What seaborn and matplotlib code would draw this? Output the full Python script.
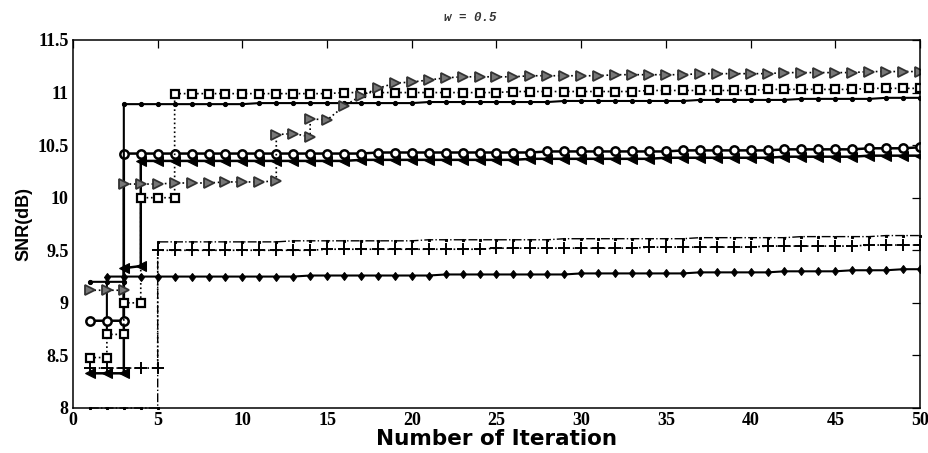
import matplotlib
matplotlib.use("Agg")
import matplotlib.pyplot as plt
import seaborn as sns

# ---------------- data ----------------
x_ticks = [0, 5, 10, 15, 20, 25, 30, 35, 40, 45, 50]
y_ticks = [8, 8.5, 9, 9.5, 10, 10.5, 11, 11.5]
y_tick_labels = ["8", "8.5", "9", "9.5", "10", "10.5", "11", "11.5"]

circ_iter = [1, 2, 3, 3] + list(range(4, 51))
circ_snr = [8.83, 8.83, 8.83,
            10.42, 10.42, 10.42, 10.42, 10.42, 10.42, 10.42, 10.42, 10.42, 10.42,
            10.42, 10.42, 10.42, 10.42, 10.42,
            10.43, 10.43, 10.43, 10.43, 10.43, 10.43, 10.43, 10.43, 10.43, 10.43,
            10.44, 10.44, 10.44, 10.44, 10.44, 10.44, 10.44, 10.44,
            10.45, 10.45, 10.45, 10.45, 10.45, 10.45,
            10.46, 10.46, 10.46, 10.46, 10.46,
            10.47, 10.47, 10.47,
            10.48]

ltri_iter = [1, 2, 3, 3, 4, 4] + list(range(5, 51))
ltri_snr = [8.33, 8.33, 8.33, 9.33, 9.35, 10.35,
            10.35, 10.35, 10.35, 10.35, 10.35, 10.35, 10.35, 10.35, 10.35, 10.35, 10.35, 10.35,
            10.36, 10.36, 10.36, 10.36, 10.36, 10.36, 10.36, 10.36, 10.36, 10.36,
            10.37, 10.37, 10.37, 10.37, 10.37, 10.37, 10.37, 10.37,
            10.38, 10.38, 10.38, 10.38, 10.38, 10.38, 10.38,
            10.39, 10.39, 10.39, 10.39, 10.39,
            10.40, 10.40, 10.40, 10.40]

dot_iter = [1, 2, 3, 3] + list(range(4, 51))
dot_snr = [9.20, 9.20, 9.20,
           10.89, 10.89, 10.89, 10.89, 10.89, 10.89, 10.89, 10.89,
           10.90, 10.90, 10.90, 10.90, 10.90, 10.90, 10.90, 10.90, 10.90, 10.90,
           10.91, 10.91, 10.91, 10.91, 10.91, 10.91, 10.91, 10.91,
           10.92, 10.92, 10.92, 10.92, 10.92, 10.92, 10.92, 10.92,
           10.93, 10.93, 10.93, 10.93, 10.93, 10.93,
           10.94, 10.94, 10.94, 10.94, 10.94,
           10.95, 10.95, 10.95]

dia_iter = [2, 2] + list(range(3, 51))
dia_snr = [8.70,
           9.25, 9.25, 9.25, 9.25, 9.25, 9.25, 9.25, 9.25, 9.25, 9.25, 9.25, 9.25,
           9.26, 9.26, 9.26, 9.26, 9.26, 9.26, 9.26, 9.26,
           9.27, 9.27, 9.27, 9.27, 9.27, 9.27, 9.27, 9.27,
           9.28, 9.28, 9.28, 9.28, 9.28, 9.28, 9.28,
           9.29, 9.29, 9.29, 9.29, 9.29,
           9.30, 9.30, 9.30, 9.30,
           9.31, 9.31, 9.31,
           9.32, 9.32]

plus_iter = [1, 2, 3, 4, 5, 5] + list(range(6, 51))
plus_snr = [8.38, 8.38, 8.38, 8.38, 8.38,
            9.50, 9.50, 9.50, 9.50, 9.50, 9.50, 9.50, 9.50, 9.50, 9.50,
            9.51, 9.51, 9.51, 9.51, 9.51, 9.51, 9.51, 9.51, 9.51, 9.51,
            9.52, 9.52, 9.52, 9.52, 9.52, 9.52, 9.52, 9.52, 9.52,
            9.53, 9.53, 9.53, 9.53, 9.53, 9.53, 9.53,
            9.54, 9.54, 9.54, 9.54, 9.54, 9.54,
            9.55, 9.55, 9.55, 9.55]

dd_iter = [1, 2, 3, 4, 5, 5] + list(range(6, 51))
dd_snr = [8.00, 8.00, 8.00, 8.00, 8.00,
          9.58, 9.58, 9.58, 9.58, 9.58, 9.58, 9.58, 9.58,
          9.59, 9.59, 9.59, 9.59, 9.59, 9.59, 9.59, 9.59,
          9.60, 9.60, 9.60, 9.60, 9.60, 9.60, 9.60, 9.60,
          9.61, 9.61, 9.61, 9.61, 9.61, 9.61, 9.61, 9.61,
          9.62, 9.62, 9.62, 9.62, 9.62, 9.62,
          9.63, 9.63, 9.63, 9.63, 9.63,
          9.64, 9.64, 9.64]

sq_iter = [1, 2, 2, 3, 3, 4, 4, 5, 6, 6] + list(range(7, 51))
sq_snr = [8.48, 8.48, 8.70, 8.70, 9.00, 9.00, 10.00, 10.00, 10.00,
          10.99, 10.99, 10.99, 10.99, 10.99, 10.99, 10.99, 10.99, 10.99, 10.99,
          11.00, 11.00, 11.00, 11.00, 11.00, 11.00, 11.00, 11.00, 11.00, 11.00,
          11.01, 11.01, 11.01, 11.01, 11.01, 11.01, 11.01, 11.01,
          11.02, 11.02, 11.02, 11.02, 11.02, 11.02, 11.02,
          11.03, 11.03, 11.03, 11.03, 11.03, 11.03,
          11.04, 11.04, 11.04, 11.04]

rtri_iter = [1, 2, 3, 3, 4, 5, 6, 7, 8, 9, 10, 11, 12, 12, 13, 14, 14] + list(range(15, 51))
rtri_snr = [9.12, 9.12, 9.12, 10.13, 10.13, 10.13, 10.14, 10.14, 10.14, 10.15, 10.15,
            10.15, 10.16, 10.60, 10.61, 10.58, 10.75,
            10.74, 10.87, 10.97, 11.04, 11.09, 11.10, 11.12, 11.14,
            11.15, 11.15, 11.15, 11.15,
            11.16, 11.16, 11.16, 11.16, 11.16,
            11.17, 11.17, 11.17, 11.17, 11.17,
            11.18, 11.18, 11.18, 11.18, 11.18,
            11.19, 11.19, 11.19, 11.19, 11.19,
            11.20, 11.20, 11.20, 11.20]

# ---------------- figure ----------------
sns.set_theme(style="white")
plt.rcParams["font.family"] = ["DejaVu Sans"]

fig = plt.figure(figsize=(9.29, 4.53), dpi=100)
ax = fig.add_axes([73 / 929, 45 / 453, 847 / 929, 368 / 453])

common = dict(sort=False, estimator=None, ax=ax, color="black", legend=False)

sns.lineplot(x=dd_iter, y=dd_snr, marker="s", linestyle="-.", linewidth=1.0,
             markersize=1.8, markeredgecolor="black", markerfacecolor="black",
             clip_on=False, **common)
sns.lineplot(x=plus_iter, y=plus_snr, marker="+", linestyle=":", linewidth=1.2,
             markersize=8, markeredgewidth=1.4, markeredgecolor="black", **common)
sns.lineplot(x=dia_iter, y=dia_snr, marker="d", linestyle="-", linewidth=1.5,
             markersize=4.5, markeredgecolor="black", markerfacecolor="black", **common)
sns.lineplot(x=ltri_iter, y=ltri_snr, marker="<", linestyle="-", linewidth=1.8,
             markersize=6.5, markeredgecolor="black", markerfacecolor="black", **common)
sns.lineplot(x=circ_iter, y=circ_snr, marker="o", linestyle="-", linewidth=1.8,
             markersize=6, markeredgewidth=1.8, markeredgecolor="black",
             markerfacecolor="white", **common)
sns.lineplot(x=dot_iter, y=dot_snr, marker="o", linestyle="-", linewidth=1.5,
             markersize=3, markeredgecolor="black", markerfacecolor="black", **common)
sns.lineplot(x=sq_iter, y=sq_snr, marker="s", linestyle=":", linewidth=1.2,
             markersize=6, markeredgewidth=1.6, markeredgecolor="black",
             markerfacecolor="white", **common)
sns.lineplot(x=rtri_iter, y=rtri_snr, marker=">", linestyle=":", linewidth=1.2,
             markersize=7, markeredgewidth=1.3, markeredgecolor="#333333",
             markerfacecolor="#777777", **common)

ax.set_xlim(0, 50)
ax.set_ylim(8, 11.5)
ax.set_xticks(x_ticks)
ax.set_xticklabels([str(t) for t in x_ticks])
ax.set_yticks(y_ticks)
ax.set_yticklabels(y_tick_labels)
ax.tick_params(direction="in", top=True, right=True, length=6, width=0.9,
               labelsize=13, colors="black", pad=3)
for lbl in ax.get_xticklabels() + ax.get_yticklabels():
    lbl.set_fontfamily(["Liberation Serif"])
    lbl.set_fontweight("bold")
for s in ax.spines.values():
    s.set_color("black")
    s.set_linewidth(1.1)

ax.set_xlabel("Number of Iteration", fontsize=15.5, fontweight="bold",
              color="black", labelpad=0)
ax.set_ylabel("SNR(dB)", fontsize=13, fontweight="bold", color="black",
              labelpad=4, family=["Liberation Sans"])
fig.text(470 / 929, 1 - 18 / 453, "w = 0.5", ha="center", va="center",
         fontsize=9, fontweight="bold", style="italic", color="#333333",
         family=["Liberation Mono"])
ax.grid(False)

fig.savefig("out.png", dpi=100)
